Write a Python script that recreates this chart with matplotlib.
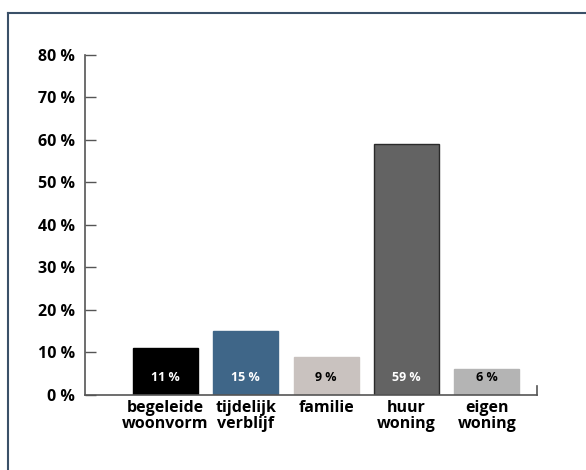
import matplotlib
matplotlib.use("Agg")
import matplotlib.pyplot as plt
from matplotlib.lines import Line2D

categories = ["begeleide\nwoonvorm", "tijdelijk\nverblijf", "familie", "huur\nwoning", "eigen\nwoning"]
values = [11, 15, 9, 59, 6]
value_labels = ["11 %", "15 %", "9 %", "59 %", "6 %"]
colors = ["#000000", "#3f6688", "#c9c2bf", "#636363", "#b4b4b4"]
edgecolors = ["#000000", "#3f6688", "#c9c2bf", "#2a2a2a", "#b4b4b4"]
text_colors = ["white", "white", "black", "white", "black"]
yticks = [0, 10, 20, 30, 40, 50, 60, 70, 80]
ytick_labels = [f"{v} %" for v in yticks]

plt.rcParams['font.family'] = ['Open Sans', 'DejaVu Sans']

fig = plt.figure(figsize=(5.86, 4.70), dpi=100)
ax = fig.add_axes([0.145, 0.16, 0.771, 0.723])

x = list(range(len(categories)))
ax.bar(x, values, width=0.81, color=colors, edgecolor=edgecolors, linewidth=1, zorder=2)
for xi, lab, tc in zip(x, value_labels, text_colors):
    ax.text(xi, 4, lab, ha="center", va="center", fontsize=9, fontweight="bold", color=tc, zorder=3)

ax.set_xlim(-1.0, 4.62)
ax.set_ylim(0, 80)
ax.set_yticks(yticks)
ax.set_yticklabels(ytick_labels, fontsize=11.5, fontweight="bold")
ax.set_xticks(x)
ax.set_xticklabels(categories, fontsize=11.5, fontweight="bold", linespacing=1.0)
ax.tick_params(axis="x", length=0, pad=4)
ax.tick_params(axis="y", direction="in", length=8, width=1, color="#555555", pad=7)

ax.spines["top"].set_visible(False)
ax.spines["right"].set_bounds(0, 2)
for s in ["left", "bottom", "right"]:
    ax.spines[s].set_color("#555555")
    ax.spines[s].set_linewidth(1.2)

# outer frame (top and left edges visible)
fig.add_artist(Line2D([8/586, 1.0], [1-13/470, 1-13/470], transform=fig.transFigure, color="#3a5068", lw=1.5))
fig.add_artist(Line2D([8/586, 8/586], [0, 1-13/470], transform=fig.transFigure, color="#3a5068", lw=1.5))

fig.savefig("out.png", dpi=100)
